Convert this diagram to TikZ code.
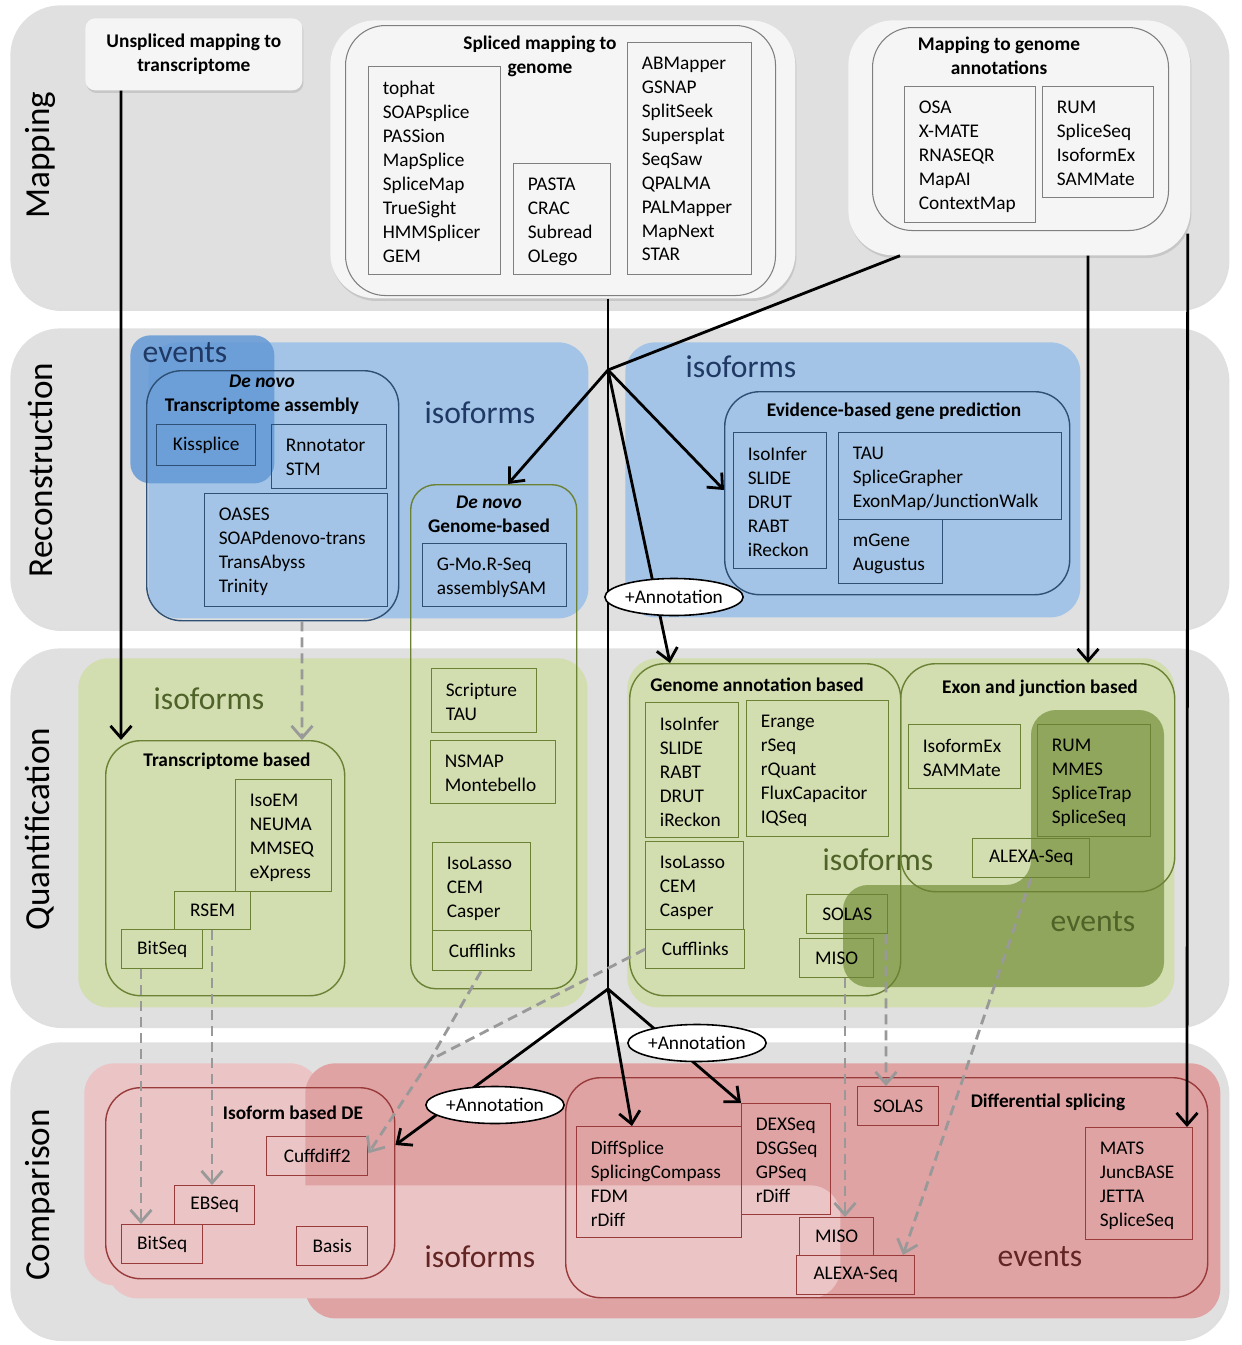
\documentclass[tikz,border=0pt]{standalone}
\usepackage{fontspec}
\setmainfont{Carlito}
\usepackage{xcolor}
\usepackage{tikz}
\usetikzlibrary{positioning,shapes.geometric,shadows,arrows.meta}

\definecolor{bandgray}{HTML}{E0E0E0}
\definecolor{mapfill}{HTML}{F5F5F5}
\definecolor{mapline}{HTML}{7F7F7F}
\definecolor{isoblue}{HTML}{A3C4E6}
\definecolor{evblue}{HTML}{6399D6}
\definecolor{blueline}{HTML}{2F5075}
\definecolor{bluetext}{HTML}{1F3864}
\definecolor{isogreen}{HTML}{D2DDB0}
\definecolor{evgreen}{HTML}{7A9440}
\definecolor{greenline}{HTML}{6B8235}
\definecolor{greentext}{HTML}{4F6228}
\definecolor{isored}{HTML}{EBC4C5}
\definecolor{evred}{HTML}{E0A3A4}
\definecolor{redline}{HTML}{9A3B3B}
\definecolor{redtext}{HTML}{632523}
\definecolor{dashgray}{HTML}{999999}

\newcommand{\toolsize}{\fontsize{11}{13.6}\selectfont}
\newcommand{\groupsize}{\fontsize{18}{20}\selectfont}
\newcommand{\rowsize}{\fontsize{20}{22}\selectfont}

\tikzset{
    band/.style={fill=bandgray, rounded corners=1cm, anchor=north west, drop shadow={opacity=.25, shadow xshift=.6pt, shadow yshift=-1.5pt}},
    mapbox/.style={fill=mapfill, rounded corners=.9cm, anchor=north west, drop shadow={opacity=.25, shadow xshift=.6pt, shadow yshift=-1.5pt}},
    mapin/.style={draw=mapline, line width=.6pt, rounded corners=.8cm, anchor=north west},
    toolbox/.style={draw=#1, line width=.8pt, anchor=north west, font=\toolsize},
    tools/.style={below right, align=left, inner xsep=.29cm, inner ysep=.3cm, font=\toolsize},
    grouptitle/.style={align=center, font=\toolsize\bfseries},
    groupbox/.style={draw=#1, line width=.8pt, rounded corners=.7cm, anchor=north west},
    region/.style={fill=#1, rounded corners=.6cm, anchor=north west},
    rowlabel/.style={rotate=90, font=\rowsize},
    grouplabel/.style={font=\groupsize, text=#1},
    conn/.style={>={Straight Barb[length=2.4mm, width=4.2mm]}, line width=1.6pt},
    dconn/.style={>={Straight Barb[length=2.4mm, width=4.2mm]}, line width=1.6pt, color=dashgray, dash pattern=on 2mm off 1.2mm},
    plusanno/.style={ellipse, draw=black, fill=white, line width=.9pt, inner sep=0pt, minimum width=2.52cm, minimum height=.74cm, font=\toolsize}
}

\begin{document}
\begin{tikzpicture}
        \useasboundingbox (0,0) rectangle (24.82,-26.9);

        \node (mapband) [band, minimum width=24.36cm, minimum height=6.06cm] at (.2,-.1) {};
        \node (recband) [band, minimum width=24.36cm, minimum height=6cm] at (.2,-6.56) {};
        \node (quaband) [band, minimum width=24.36cm, minimum height=7.54cm] at (.2,-12.96) {};
        \node (comband) [band, minimum width=24.36cm, minimum height=5.92cm] at (.2,-20.84) {};

        \node [rowlabel] at (.8,-3.1) {Mapping};
        \node [rowlabel] at (.8,-9.4) {Reconstruction};
        \node [rowlabel] at (.8,-16.58) {Quantification};
        \node [rowlabel] at (.8,-23.9) {Comparison};

        \node (unspl) [mapbox, rounded corners=.2cm, minimum width=4.34cm, minimum height=1.44cm, align=center, font=\toolsize\bfseries] at (1.7,-.36) {Unspliced mapping to\\transcriptome};

        \node (splo) [mapbox, minimum width=9.3cm, minimum height=5.56cm] at (6.6,-.4) {};
        \node (spli) [mapin, minimum width=8.6cm, minimum height=5.4cm] at (6.9,-.5) {};
        \node [grouptitle] at (10.8,-1.12) {Spliced mapping to\\genome};
        \node (tophat) [toolbox=mapline, minimum width=2.64cm, minimum height=4.16cm] at (7.36,-1.32) {};
        \node [tools] at (tophat.north west) {tophat\\SOAPsplice\\PASSion\\MapSplice\\SpliceMap\\TrueSight\\HMMSplicer\\GEM};
        \node (pasta) [toolbox=mapline, minimum width=1.94cm, minimum height=2.22cm] at (10.26,-3.26) {};
        \node [tools] at (pasta.north west) {PASTA\\CRAC\\Subread\\OLego};
        \node (abmapper) [toolbox=mapline, minimum width=2.48cm, minimum height=4.64cm] at (12.54,-.84) {};
        \node [tools] at (abmapper.north west) {ABMapper\\GSNAP\\SplitSeek\\Supersplat\\SeqSaw\\QPALMA\\PALMapper\\MapNext\\STAR};

        \node (genanno) [mapbox, minimum width=6.84cm, minimum height=4.7cm] at (16.96,-.4) {};
        \node (genannoin) [mapin, minimum width=5.92cm, minimum height=4.06cm] at (17.44,-.54) {};
        \node [grouptitle] at (19.98,-1.12) {Mapping to genome\\annotations};
        \node (osa) [toolbox=mapline, minimum width=2.62cm, minimum height=2.72cm] at (18.08,-1.72) {};
        \node [tools] at (osa.north west) {OSA\\X-MATE\\RNASEQR\\MapAI\\ContextMap};
        \node (rummap) [toolbox=mapline, minimum width=2.22cm, minimum height=2.22cm] at (20.84,-1.72) {};
        \node [tools] at (rummap.north west) {RUM\\SpliceSeq\\IsoformEx\\SAMMate};

        \node (bluel) [region=isoblue, minimum width=8.8cm, minimum height=5.52cm] at (2.96,-6.84) {};
        \node (bluer) [region=isoblue, minimum width=9.1cm, minimum height=5.5cm] at (12.5,-6.84) {};
        \node (blueev) [region=evblue, rounded corners=.4cm, fill opacity=.85, minimum width=2.88cm, minimum height=2.96cm] at (2.6,-6.7) {};
        \node [grouplabel=bluetext] at (3.7,-7.06) {events};
        \node [grouplabel=bluetext] at (9.6,-8.26) {isoforms};
        \node [grouplabel=bluetext] at (14.82,-7.34) {isoforms};

        \node (transasm) [groupbox=blueline, minimum width=5.04cm, minimum height=5cm] at (2.92,-7.4) {};
        \node [grouptitle] at (5.24,-7.9) {\textit{De novo}\\Transcriptome assembly};
        \node (kissplice) [toolbox=blueline, minimum width=1.98cm, minimum height=.82cm] at (3.12,-8.48) {Kissplice};
        \node (rnnotator) [toolbox=blueline, minimum width=2.3cm, minimum height=1.28cm] at (5.42,-8.48) {};
        \node [tools] at (rnnotator.north west) {Rnnotator\\STM};
        \node (oases) [toolbox=blueline, minimum width=3.66cm, minimum height=2.26cm] at (4.08,-9.86) {};
        \node [tools] at (oases.north west) {OASES\\SOAPdenovo-trans\\TransAbyss\\Trinity};

        \node (evidence) [groupbox=blueline, minimum width=6.9cm, minimum height=4.06cm] at (14.48,-7.82) {};
        \node [grouptitle] at (17.88,-8.22) {Evidence-based gene prediction};
        \node (isoinfer) [toolbox=blueline, minimum width=1.86cm, minimum height=2.72cm] at (14.66,-8.64) {};
        \node [tools] at (isoinfer.north west) {IsoInfer\\SLIDE\\DRUT\\RABT\\iReckon};
        \node (tau) [toolbox=blueline, minimum width=4.46cm, minimum height=1.74cm] at (16.76,-8.64) {};
        \node [tools] at (tau.north west) {TAU\\SpliceGrapher\\ExonMap/JunctionWalk};
        \node (mgene) [toolbox=blueline, minimum width=2.08cm, minimum height=1.28cm] at (16.76,-10.38) {};
        \node [tools] at (mgene.north west) {mGene\\Augustus};

        \node (greenl) [region=isogreen, minimum width=10.18cm, minimum height=6.98cm] at (1.56,-13.16) {};
        \node (greenr) [region=isogreen, minimum width=10.94cm, minimum height=6.98cm] at (12.54,-13.16) {};
        \node [grouplabel=greentext] at (4.18,-13.98) {isoforms};
        \node [grouplabel=greentext] at (17.56,-17.2) {isoforms};
        \fill [evgreen, fill opacity=.75, rounded corners=.5cm] (16.86,-17.7) -- (20.62,-17.7) -- (20.62,-14.2) -- (23.28,-14.2) -- (23.28,-19.74) -- (16.86,-19.74) -- cycle;
        \node [grouplabel=greentext] at (21.86,-18.44) {events};

        \node (genomeasm) [groupbox=greenline, rounded corners=.5cm, minimum width=3.32cm, minimum height=10.08cm] at (8.2,-9.68) {};
        \node [grouptitle] at (9.78,-10.28) {\textit{De novo}\\Genome-based};
        \node (gmorseq) [toolbox=blueline, minimum width=2.88cm, minimum height=1.26cm] at (8.44,-10.86) {};
        \node [tools] at (gmorseq.north west) {G-Mo.R-Seq\\assemblySAM};

        \node (transbased) [groupbox=greenline, minimum width=4.78cm, minimum height=5.1cm] at (2.1,-14.8) {};
        \node [grouptitle] at (4.54,-15.22) {Transcriptome based};
        \node (isoem) [toolbox=greenline, minimum width=1.92cm, minimum height=2.24cm] at (4.7,-15.58) {};
        \node [tools] at (isoem.north west) {IsoEM\\NEUMA\\MMSEQ\\eXpress};
        \node (rsem) [toolbox=greenline, minimum width=1.52cm, minimum height=.76cm] at (3.48,-17.82) {RSEM};
        \node (bitseqq) [toolbox=greenline, minimum width=1.62cm, minimum height=.78cm] at (2.42,-18.58) {BitSeq};

        \node (scripture) [toolbox=greenline, minimum width=2.1cm, minimum height=1.28cm] at (8.62,-13.36) {};
        \node [tools] at (scripture.north west) {Scripture\\TAU};
        \node (nsmap) [toolbox=greenline, minimum width=2.5cm, minimum height=1.26cm] at (8.6,-14.8) {};
        \node [tools] at (nsmap.north west) {NSMAP\\Montebello};
        \node (isolassoa) [toolbox=greenline, minimum width=1.96cm, minimum height=1.76cm] at (8.64,-16.84) {};
        \node [tools] at (isolassoa.north west) {IsoLasso\\CEM\\Casper};
        \node (cufflinksa) [toolbox=greenline, minimum width=1.98cm, minimum height=.8cm] at (8.64,-18.6) {Cufflinks};

        \node (annobased) [groupbox=greenline, minimum width=5.42cm, minimum height=6.64cm] at (12.58,-13.26) {};
        \node [grouptitle] at (15.14,-13.7) {Genome annotation based};
        \node (isoinferq) [toolbox=greenline, minimum width=1.86cm, minimum height=2.7cm] at (12.9,-14.04) {};
        \node [tools] at (isoinferq.north west) {IsoInfer\\SLIDE\\RABT\\DRUT\\iReckon};
        \node (erange) [toolbox=greenline, minimum width=2.84cm, minimum height=2.72cm] at (14.92,-14) {};
        \node [tools] at (erange.north west) {Erange\\rSeq\\rQuant\\FluxCapacitor\\IQSeq};
        \node (isolassob) [toolbox=greenline, minimum width=1.96cm, minimum height=1.76cm] at (12.9,-16.82) {};
        \node [tools] at (isolassob.north west) {IsoLasso\\CEM\\Casper};
        \node (cufflinksb) [toolbox=greenline, minimum width=1.98cm, minimum height=.78cm] at (12.9,-18.58) {Cufflinks};
        \node (solasq) [toolbox=greenline, minimum width=1.62cm, minimum height=.78cm] at (16.12,-17.88) {SOLAS};
        \node (misoq) [toolbox=greenline, minimum width=1.48cm, minimum height=.78cm] at (15.98,-18.76) {MISO};

        \node (exonbased) [groupbox=greenline, minimum width=5.48cm, minimum height=4.56cm] at (18,-13.26) {};
        \node [grouptitle] at (20.8,-13.76) {Exon and junction based};
        \node (isoformex) [toolbox=greenline, minimum width=2.24cm, minimum height=1.28cm] at (18.16,-14.48) {};
        \node [tools] at (isoformex.north west) {IsoformEx\\SAMMate};
        \node (rumq) [toolbox=greenline, minimum width=2.26cm, minimum height=2.24cm] at (20.74,-14.48) {};
        \node [tools] at (rumq.north west) {RUM\\MMES\\SpliceTrap\\SpliceSeq};
        \node (alexaq) [toolbox=greenline, minimum width=2.34cm, minimum height=.78cm] at (19.44,-16.76) {ALEXA-Seq};

        \node (redl) [region=isored, minimum width=4.72cm, minimum height=4.44cm] at (1.68,-21.26) {};
        \node (redev) [region=evred, minimum width=18.3cm, minimum height=5.1cm] at (6.1,-21.26) {};
        \node (redlow) [region=isored, minimum width=14.66cm, minimum height=2.26cm] at (2.14,-23.7) {};
        \node [grouplabel=redtext] at (9.6,-25.14) {isoforms};
        \node [grouplabel=redtext] at (20.8,-25.14) {events};

        \node (isode) [groupbox=redline, minimum width=5.78cm, minimum height=3.82cm] at (2.1,-21.74) {};
        \node [grouptitle] at (5.86,-22.26) {Isoform based DE};
        \node (cuffdiff) [toolbox=redline, minimum width=2.02cm, minimum height=.78cm] at (5.32,-22.72) {Cuffdiff2};
        \node (ebseq) [toolbox=redline, minimum width=1.6cm, minimum height=.78cm] at (3.48,-23.7) {EBSeq};
        \node (bitseqc) [toolbox=redline, minimum width=1.62cm, minimum height=.78cm] at (2.42,-24.48) {BitSeq};
        \node (basis) [toolbox=redline, minimum width=1.42cm, minimum height=.78cm] at (5.92,-24.52) {Basis};

        \node (diffspl) [groupbox=redline, minimum width=12.84cm, minimum height=4.4cm] at (11.3,-21.54) {};
        \node [grouptitle] at (20.96,-22.04) {Differential splicing};
        \node (diffsplice) [toolbox=redline, minimum width=3.3cm, minimum height=2.22cm] at (11.52,-22.52) {};
        \node [tools] at (diffsplice.north west) {DiffSplice\\SplicingCompass\\FDM\\rDiff};
        \node (dexseq) [toolbox=redline, minimum width=1.78cm, minimum height=2.22cm] at (14.82,-22.06) {};
        \node [tools] at (dexseq.north west) {DEXSeq\\DSGSeq\\GPSeq\\rDiff};
        \node (solasc) [toolbox=redline, minimum width=1.62cm, minimum height=.78cm] at (17.14,-21.72) {SOLAS};
        \node (misoc) [toolbox=redline, minimum width=1.48cm, minimum height=.76cm] at (15.98,-24.34) {MISO};
        \node (alexac) [toolbox=redline, minimum width=2.36cm, minimum height=.78cm] at (15.92,-25.1) {ALEXA-Seq};
        \node (mats) [toolbox=redline, minimum width=2.14cm, minimum height=2.24cm] at (21.7,-22.54) {};
        \node [tools] at (mats.north west) {MATS\\JuncBASE\\JETTA\\SpliceSeq};

        \coordinate (hubrec) at (12.16,-7.4);
        \coordinate (hubcomp) at (12.16,-19.78);
        \coordinate (cuffmerge) at (8.6,-21.2);

        \draw[->, conn] ([xshift=.72cm]unspl.south west) -- ([xshift=.32cm]transbased.north west);
        \draw[conn] (splo.south -| hubrec) -- (hubrec) -- (hubcomp);
        \draw[conn] ([xshift=1.04cm]genanno.south west) -- (hubrec);
        \draw[->, conn] (hubrec) -- ([xshift=1.96cm]genomeasm.north west);
        \draw[->, conn] (hubrec) -- ([yshift=-1.98cm]evidence.north west);
        \draw[->, conn] (hubrec) -- ([xshift=.82cm]annobased.north west);
        \draw[->, conn] ([xshift=4.8cm]genanno.south west) -- ([xshift=3.76cm]exonbased.north west);
        \draw[->, conn] ([xshift=-.06cm, yshift=.44cm]genanno.south east) -- ([xshift=2.04cm]mats.north west);
        \draw[->, conn] (hubcomp) -- ([yshift=-1.16cm]isode.north east);
        \draw[->, conn] (hubcomp) -- ([xshift=1.12cm]diffsplice.north west);
        \draw[->, conn] (hubcomp) -- (dexseq.north west);

        \draw[->, dconn] ([xshift=3.12cm]transasm.south west) -- ([xshift=3.94cm]transbased.north west);
        \draw[->, dconn] ([xshift=.4cm]bitseqq.south west) -- ([xshift=.4cm]bitseqc.north west);
        \draw[->, dconn] ([xshift=.76cm]rsem.south west) -- ([xshift=.76cm]ebseq.north west);
        \draw[dconn] ([xshift=.98cm]cufflinksa.south west) -- (cuffmerge);
        \draw[dconn] (cufflinksb.west) -- (cuffmerge);
        \draw[->, dconn] (cuffmerge) -- ([yshift=.06cm]cuffdiff.east);
        \draw[->, dconn] ([xshift=1.6cm]solasq.south west) -- ([xshift=.58cm]solasc.north west);
        \draw[->, dconn] ([xshift=.92cm]misoq.south west) -- ([xshift=.92cm]misoc.north west);
        \draw[->, dconn] ([xshift=1.18cm]alexaq.south west) -- ([xshift=2.14cm]alexac.north west);

        \node (annrec) [plusanno] at (13.48,-11.94) {+Annotation};
        \node (anndiff) [plusanno] at (13.94,-20.86) {+Annotation};
        \node (annde) [plusanno] at (9.9,-22.1) {+Annotation};
\end{tikzpicture}
\end{document}
